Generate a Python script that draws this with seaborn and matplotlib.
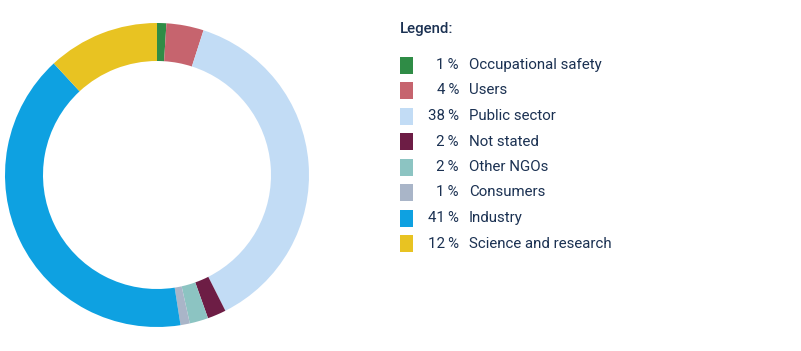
import matplotlib
matplotlib.use("Agg")
import matplotlib.pyplot as plt
import seaborn as sns

# data
categories = ["Occupational safety", "Users", "Public sector", "Not stated",
              "Other NGOs", "Consumers", "Industry", "Science and research"]
shares = [1, 4, 38, 2, 2, 1, 41, 12]
colors = ["#2f8c46", "#c6646e", "#c2dcf5", "#6d1d45",
          "#8cc4c2", "#a9b5c8", "#0ea1e1", "#e8c322"]
pct_labels = [f"{v}\u2009%" for v in shares]

sns.set_theme(style="white")
plt.rcParams["font.family"] = ["Roboto", "DejaVu Sans"]
text_col = "#1b3152"

fig = plt.figure(figsize=(8.01, 3.51), dpi=100)

# donut
ax = fig.add_axes([5 / 801, 24 / 351, 304 / 801, 304 / 351])
ax.pie(shares, colors=colors, startangle=90, counterclock=False,
       radius=1.0, wedgeprops=dict(width=0.25, linewidth=0))
ax.set_xlim(-1, 1)
ax.set_ylim(-1, 1)
ax.set_aspect("equal")
ax.axis("off")

# legend drawn by hand
lax = fig.add_axes([0, 0, 1, 1])
lax.set_xlim(0, 801)
lax.set_ylim(351, 0)
lax.axis("off")
lax.text(400, 29, "Legend:", color=text_col, fontsize=10.8,
         fontweight="medium", va="center", ha="left")
y0, step = 65, 25.5
for i, (cat, pl, c) in enumerate(zip(categories, pct_labels, colors)):
    y = y0 + i * step
    lax.add_patch(plt.Rectangle((400, y - 8.5), 12.5, 17, color=c, lw=0))
    lax.text(459, y, pl, color=text_col, fontsize=10.8, va="center", ha="right")
    lax.text(469, y, cat, color=text_col, fontsize=10.8, va="center", ha="left")

fig.savefig("out.png", dpi=100)
